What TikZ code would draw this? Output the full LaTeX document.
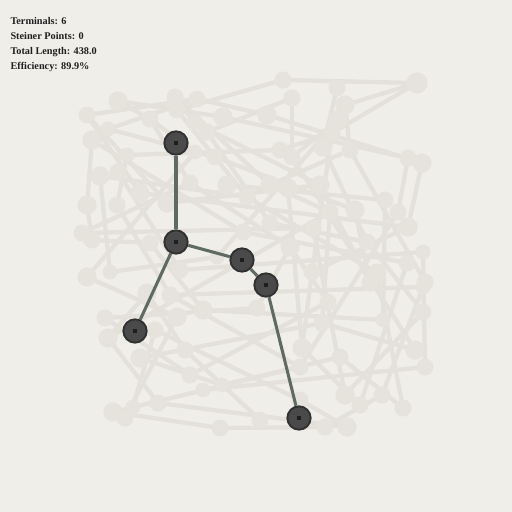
\documentclass[tikz,border=0pt]{standalone}
\usepackage{fontspec}
\setmainfont{Liberation Serif}

\definecolor{paper}{RGB}{240,238,233}
\definecolor{ghost}{RGB}{230,227,221}
\definecolor{ghostline}{RGB}{228,225,219}
\definecolor{treeline}{RGB}{95,107,98}
\definecolor{termfill}{RGB}{74,74,74}
\definecolor{termrim}{RGB}{48,48,48}
\definecolor{termdot}{RGB}{30,30,30}

\tikzset{every picture/.style={line width=0.75pt}}
\tikzset{
  ghostnode/.style={circle, fill=ghost, inner sep=0pt},
  ghostedge/.style={draw=ghostline, line width=3.2pt},
  terminal/.style={circle, fill=termfill, draw=termrim, line width=1.4pt, minimum size=17.5pt, inner sep=0pt,
    path picture={\fill[termdot] ([xshift=-1.7pt,yshift=-1.7pt]path picture bounding box.center) rectangle ++(3.4pt,3.4pt);}},
  treeedge/.style={draw=treeline, line width=2.3pt},
  stat/.style={anchor=base west, inner sep=0pt, font=\fontsize{7.7}{9}\selectfont\bfseries, text=black!88}
}

\begin{document}
\begin{tikzpicture}[x=0.75pt,y=0.75pt,yscale=-1,xscale=1]
    % page and paper
    \useasboundingbox (0,0) rectangle (512,512);
    \fill[paper] (0,0) rectangle (512,512);

    % faint background graph
    \def\ghostlist{1/283/80/8, 2/118/101/9, 3/175/97/8, 4/197/99/8, 5/337/88/8, 6/417/83/10,
      7/292/98/8, 8/345/105/9, 9/87/115/8, 10/108/129/7, 11/150/119/8, 12/177/110/8, 13/223/117/9,
      14/267/115/9, 15/92/140/9, 16/127/155/7, 17/195/123/8, 18/207/132/8, 19/195/152/7, 20/215/157/8,
      21/100/176/9, 22/118/172/8, 23/140/193/9, 24/190/183/8, 25/227/185/9, 26/270/185/9, 27/280/150/8,
      28/87/205/9, 29/117/205/8, 30/167/203/9, 31/247/197/8, 32/82/233/8, 33/92/240/8, 34/150/243/8,
      35/87/277/9, 36/110/272/7, 37/180/270/8, 38/217/257/7, 39/270/223/8, 40/243/232/8, 41/338/120/9,
      42/332/133/8, 43/323/147/9, 44/350/150/8, 45/408/158/8, 46/422/163/9, 47/292/157/8, 48/320/185/9,
      49/288/188/9, 50/385/200/8, 51/398/212/8, 52/408/227/9, 53/330/212/8, 54/355/210/9, 55/313/228/8,
      56/367/242/8, 57/290/247/9, 58/423/252/7, 59/312/272/8, 60/377/273/9, 61/407/263/8, 62/425/282/8,
      63/370/283/8, 64/147/293/9, 65/170/295/8, 66/105/318/8, 67/108/338/9, 68/203/310/9, 69/177/317/9,
      70/155/330/8, 71/140/358/9, 72/185/350/8, 73/190/375/8, 74/203/390/7, 75/222/385/7, 76/158/403/8,
      77/113/412/9, 78/133/407/7, 79/125/418/8, 80/220/428/8, 81/322/323/8, 82/302/348/9, 83/340/357/8,
      84/383/320/7, 85/423/312/8, 86/415/350/9, 87/425/367/8, 88/382/395/8, 89/403/408/8, 90/345/395/9,
      91/360/405/8, 92/300/400/8, 93/325/427/8, 94/347/427/9, 95/260/420/8, 96/257/308/8, 97/423/287/7,
      98/328/302/8, 99/300/367/8}
    \foreach \n/\x/\y/\r in \ghostlist
      \coordinate (c\n) at (\x,\y);

    \foreach \a/\b in {1/6, 1/12, 2/11, 2/13, 3/17, 3/26, 4/14, 4/9, 5/43, 6/8, 6/42, 7/18, 7/47, 8/44,
      9/23, 9/30, 10/4, 11/24, 12/31, 13/45, 14/46, 15/28, 15/40, 16/27, 16/29, 17/48, 18/39, 19/35,
      20/54, 21/36, 22/37, 23/52, 24/57, 25/50, 26/53, 27/42, 28/33, 29/65, 30/48, 31/60, 32/55, 33/34,
      34/68, 35/69, 36/38, 37/58, 38/41, 39/56, 40/61, 41/47, 42/59, 43/56, 44/62, 45/51, 46/52, 47/86,
      48/63, 49/82, 50/84, 51/99, 52/59, 53/81, 54/63, 55/90, 56/85, 57/96, 58/87, 59/82, 60/89, 61/91,
      62/88, 64/67, 64/72, 65/99, 66/73, 67/76, 68/84, 69/79, 70/92, 71/75, 72/95, 73/98, 74/87, 75/83,
      76/94, 77/80, 78/70, 80/93, 81/86, 82/91, 83/89, 85/90, 88/93, 92/94, 96/66, 97/65, 98/57, 10/20,
      11/19, 21/31, 32/24, 26/44, 53/67, 71/81, 77/99}
      \draw[ghostedge] (c\a) -- (c\b);

    \foreach \n/\x/\y/\r in \ghostlist
      \node[ghostnode, minimum size=1.6*\r pt] (g\n) at (c\n) {};

    % Steiner tree terminals
    \node[terminal] (t1) at (176,143) {};
    \node[terminal] (t2) at (176,242) {};
    \node[terminal] (t3) at (242,260) {};
    \node[terminal] (t4) at (266,285) {};
    \node[terminal] (t5) at (135,331) {};
    \node[terminal] (t6) at (299,418) {};

    % Steiner tree edges
    \draw[treeedge] (t1) -- (t2);
    \draw[treeedge] (t2) -- (t3);
    \draw[treeedge] (t3) -- (t4);
    \draw[treeedge] (t4) -- (t6);
    \draw[treeedge] (t2) -- (t5);

    % Text Node
    \node[stat] (terms) at (10,24) {Terminals: 6};
    % Text Node
    \node[stat] (steiner) at (10,39) {Steiner Points: 0};
    % Text Node
    \node[stat] (length) at (10,54) {Total Length: 438.0};
    % Text Node
    \node[stat] (effic) at (10,69) {Efficiency: 89.9\%};
\end{tikzpicture}
\end{document}
